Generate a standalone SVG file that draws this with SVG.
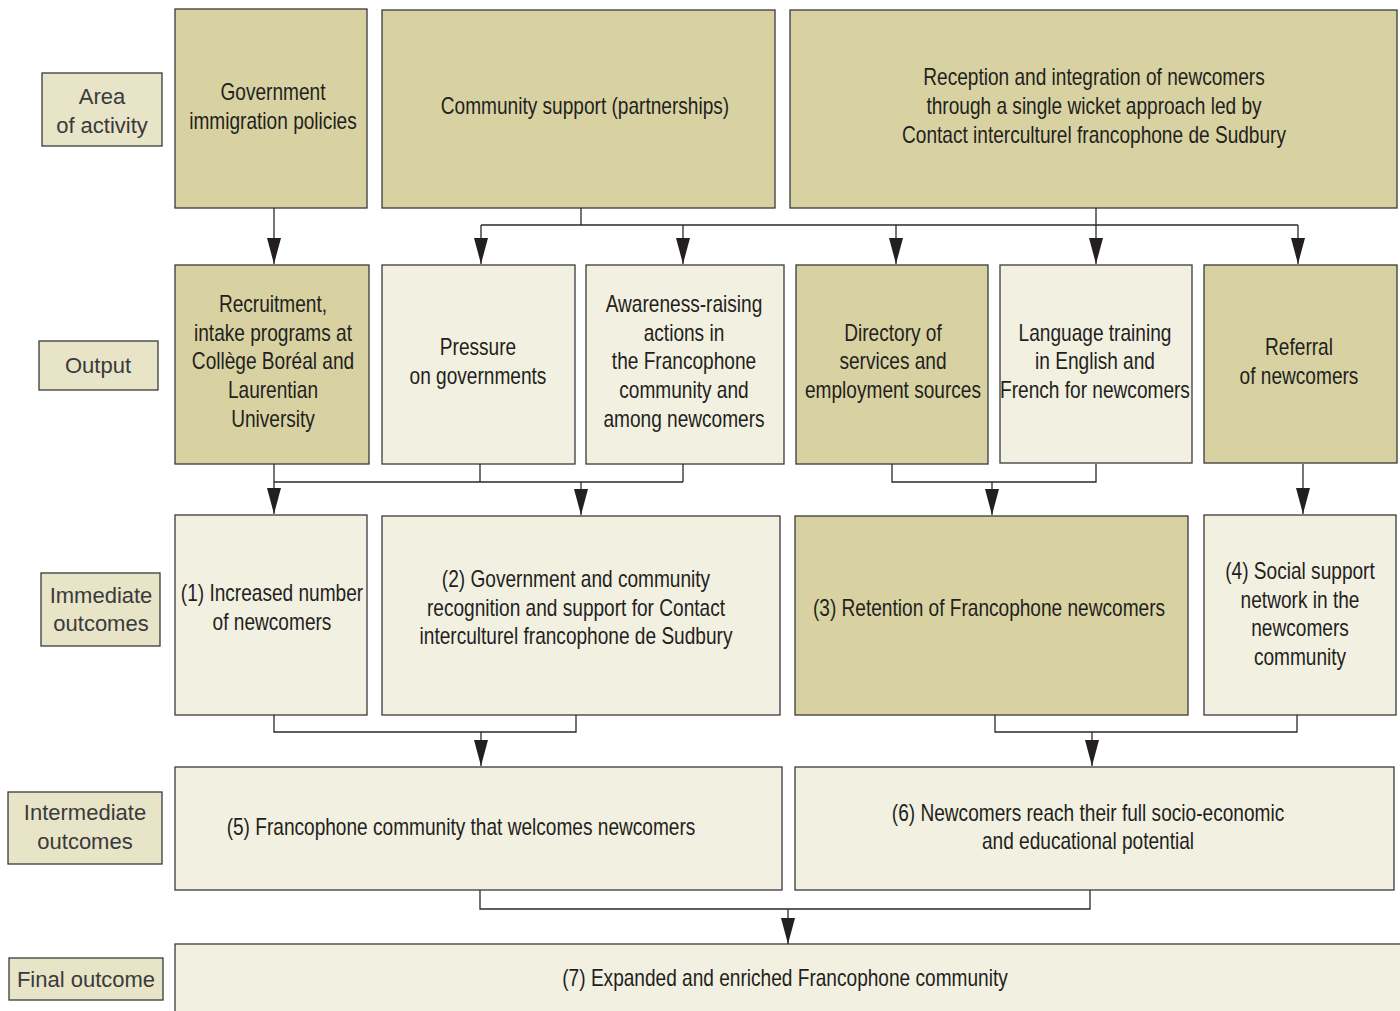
<svg xmlns="http://www.w3.org/2000/svg" width="1400" height="1011" viewBox="0 0 1400 1011">
<style>
.dk{fill:#d8d2a2;stroke:#3a3a3a;stroke-width:1.3}
.lt{fill:#f2f0e1;stroke:#3a3a3a;stroke-width:1.3}
.lb{fill:#e8e4c8;stroke:#3a3a3a;stroke-width:1.3}
.t{font-family:"Liberation Sans",Arial,sans-serif;font-size:23px;fill:#231f20;text-anchor:middle}
.l{font-family:"Liberation Sans",Arial,sans-serif;font-size:22px;fill:#3a3a3a;text-anchor:middle}
.c{fill:none;stroke:#2a2a2a;stroke-width:1.3}
</style>
<defs>
<marker id="ah" markerUnits="userSpaceOnUse" markerWidth="14" markerHeight="26" viewBox="0 0 14 26" refX="7" refY="26" orient="0">
<path d="M0,0 L14,0 L7,26 Z" fill="#231f20"/>
</marker>
</defs>

<g id="lbl-area"><rect class="lb" x="42" y="73" width="120" height="73"/><text class="l" x="102" y="104">Area</text><text class="l" x="102" y="133">of activity</text></g>
<g id="lbl-output"><rect class="lb" x="39" y="341" width="119" height="49"/><text class="l" x="98" y="373">Output</text></g>
<g id="lbl-immediate"><rect class="lb" x="41" y="573" width="119" height="73"/><text class="l" x="101" y="603">Immediate</text><text class="l" x="101" y="631">outcomes</text></g>
<g id="lbl-intermediate"><rect class="lb" x="8" y="792" width="154" height="72"/><text class="l" x="85" y="820">Intermediate</text><text class="l" x="85" y="849">outcomes</text></g>
<g id="lbl-final"><rect class="lb" x="9" y="958" width="154" height="42"/><text class="l" x="86" y="987">Final outcome</text></g>

<g id="a1"><rect class="dk" x="175" y="9" width="192" height="199"/><text class="t" transform="translate(273,100) scale(0.83,1)">Government</text><text class="t" transform="translate(273,129) scale(0.83,1)">immigration policies</text></g>
<g id="a2"><rect class="dk" x="382" y="10" width="393" height="198"/><text class="t" transform="translate(585,114) scale(0.83,1)">Community support (partnerships)</text></g>
<g id="a3"><rect class="dk" x="790" y="10" width="607" height="198"/><text class="t" transform="translate(1094,85) scale(0.83,1)">Reception and integration of newcomers</text><text class="t" transform="translate(1094,114) scale(0.83,1)">through a single wicket approach led by</text><text class="t" transform="translate(1094,143) scale(0.83,1)">Contact interculturel francophone de Sudbury</text></g>

<g id="o1"><rect class="dk" x="175" y="265" width="194" height="199"/><text class="t" transform="translate(273,312) scale(0.83,1)">Recruitment,</text><text class="t" transform="translate(273,341) scale(0.83,1)">intake programs at</text><text class="t" transform="translate(273,369) scale(0.83,1)">Collège Boréal and</text><text class="t" transform="translate(273,398) scale(0.83,1)">Laurentian</text><text class="t" transform="translate(273,427) scale(0.83,1)">University</text></g>
<g id="o2"><rect class="lt" x="382" y="265" width="193" height="199"/><text class="t" transform="translate(478,355) scale(0.83,1)">Pressure</text><text class="t" transform="translate(478,384) scale(0.83,1)">on governments</text></g>
<g id="o3"><rect class="lt" x="586" y="265" width="198" height="199"/><text class="t" transform="translate(684,312) scale(0.83,1)">Awareness-raising</text><text class="t" transform="translate(684,341) scale(0.83,1)">actions in</text><text class="t" transform="translate(684,369) scale(0.83,1)">the Francophone</text><text class="t" transform="translate(684,398) scale(0.83,1)">community and</text><text class="t" transform="translate(684,427) scale(0.83,1)">among newcomers</text></g>
<g id="o4"><rect class="dk" x="796" y="265" width="192" height="199"/><text class="t" transform="translate(893,341) scale(0.83,1)">Directory of</text><text class="t" transform="translate(893,369) scale(0.83,1)">services and</text><text class="t" transform="translate(893,398) scale(0.83,1)">employment sources</text></g>
<g id="o5"><rect class="lt" x="1000" y="265" width="192" height="198"/><text class="t" transform="translate(1095,341) scale(0.83,1)">Language training</text><text class="t" transform="translate(1095,369) scale(0.83,1)">in English and</text><text class="t" transform="translate(1095,398) scale(0.83,1)">French for newcomers</text></g>
<g id="o6"><rect class="dk" x="1204" y="265" width="193" height="198"/><text class="t" transform="translate(1299,355) scale(0.83,1)">Referral</text><text class="t" transform="translate(1299,384) scale(0.83,1)">of newcomers</text></g>

<g id="i1"><rect class="lt" x="175" y="515" width="192" height="200"/><text class="t" transform="translate(272,601) scale(0.83,1)">(1) Increased number</text><text class="t" transform="translate(272,630) scale(0.83,1)">of newcomers</text></g>
<g id="i2"><rect class="lt" x="382" y="516" width="398" height="199"/><text class="t" transform="translate(576,587) scale(0.83,1)">(2) Government and community</text><text class="t" transform="translate(576,616) scale(0.83,1)">recognition and support for Contact</text><text class="t" transform="translate(576,644) scale(0.83,1)">interculturel francophone de Sudbury</text></g>
<g id="i3"><rect class="dk" x="795" y="516" width="393" height="199"/><text class="t" transform="translate(989,616) scale(0.83,1)">(3) Retention of Francophone newcomers</text></g>
<g id="i4"><rect class="lt" x="1204" y="515" width="192" height="200"/><text class="t" transform="translate(1300,579) scale(0.83,1)">(4) Social support</text><text class="t" transform="translate(1300,608) scale(0.83,1)">network in the</text><text class="t" transform="translate(1300,636) scale(0.83,1)">newcomers</text><text class="t" transform="translate(1300,665) scale(0.83,1)">community</text></g>

<g id="m1"><rect class="lt" x="175" y="767" width="607" height="123"/><text class="t" transform="translate(461,835) scale(0.83,1)">(5) Francophone community that welcomes newcomers</text></g>
<g id="m2"><rect class="lt" x="795" y="767" width="599" height="123"/><text class="t" transform="translate(1088,821) scale(0.83,1)">(6) Newcomers reach their full socio-economic</text><text class="t" transform="translate(1088,849) scale(0.83,1)">and educational potential</text></g>

<g id="f7"><rect class="lt" x="175" y="944" width="1240" height="90"/><text class="t" transform="translate(785,986) scale(0.83,1)">(7) Expanded and enriched Francophone community</text></g>

<g id="connectors">
<path class="c" d="M274,208 V264" marker-end="url(#ah)"/>
<path class="c" d="M581,208 V225 M1096,208 V225 M481,225 H1298"/>
<path class="c" d="M481,225 V264" marker-end="url(#ah)"/>
<path class="c" d="M683,225 V264" marker-end="url(#ah)"/>
<path class="c" d="M896,225 V264" marker-end="url(#ah)"/>
<path class="c" d="M1096,225 V264" marker-end="url(#ah)"/>
<path class="c" d="M1298,225 V264" marker-end="url(#ah)"/>
<path class="c" d="M274,464 V514" marker-end="url(#ah)"/>
<path class="c" d="M274,482 H683 M480,464 V482 M683,464 V482"/>
<path class="c" d="M581,482 V515" marker-end="url(#ah)"/>
<path class="c" d="M892,464 V482 H1096 V464"/>
<path class="c" d="M992,482 V515" marker-end="url(#ah)"/>
<path class="c" d="M1303,464 V514" marker-end="url(#ah)"/>
<path class="c" d="M274,715 V732 H576 V715"/>
<path class="c" d="M481,732 V766" marker-end="url(#ah)"/>
<path class="c" d="M995,715 V732 H1297 V715"/>
<path class="c" d="M1092,732 V766" marker-end="url(#ah)"/>
<path class="c" d="M480,890 V909 H1090 V890"/>
<path class="c" d="M788,909 V944" marker-end="url(#ah)"/>
</g>
</svg>
